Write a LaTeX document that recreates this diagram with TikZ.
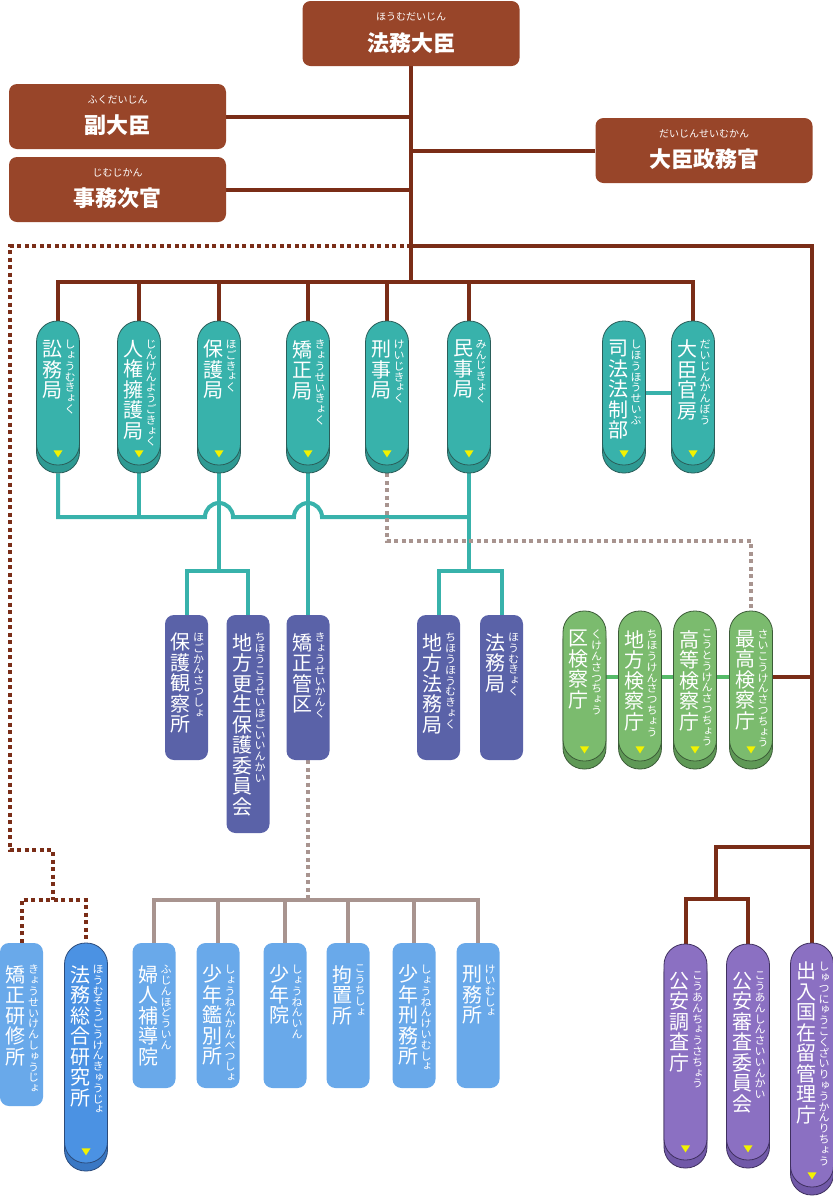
\documentclass[tikz,border=0pt]{standalone}
\usepackage{fontspec}
\setmainfont{Noto Sans CJK JP}
\newfontfamily\jpv{Noto Sans CJK JP}[RawFeature=+vert]
\usetikzlibrary{calc}
\pgfdeclarelayer{back}
\pgfdeclarelayer{bg}
\pgfsetlayers{back,bg,main}
\definecolor{cBrown}{HTML}{984529}
\definecolor{cBrownL}{HTML}{7A2D17}
\definecolor{cTeal}{HTML}{38B2AB}
\definecolor{cTealS}{HTML}{2E9A93}
\definecolor{cTealL}{HTML}{2A5E5A}
\definecolor{cNavy}{HTML}{5A62A8}
\definecolor{cGreen}{HTML}{7BBB6E}
\definecolor{cGreenS}{HTML}{5F9956}
\definecolor{cGreenL}{HTML}{3B5B37}
\definecolor{cGreenC}{HTML}{55BB68}
\definecolor{cGray}{HTML}{A8948F}
\definecolor{cSky}{HTML}{69A9EA}
\definecolor{cBlue}{HTML}{4B92E3}
\definecolor{cBlueS}{HTML}{3A78C4}
\definecolor{cBlueL}{HTML}{2B4B7B}
\definecolor{cPurp}{HTML}{8B70C2}
\definecolor{cPurpS}{HTML}{7159A8}
\definecolor{cPurpL}{HTML}{3F305F}
\definecolor{cYel}{HTML}{F2F200}
\makeatletter
\def\vst@loop#1{\ifx\relax#1\else\hbox to 1em{\hss#1\hss}\expandafter\vst@loop\fi}
\newcommand\vstack[3]{\vbox{#1\baselineskip=#2\lineskiplimit=-100pt\lineskip=0pt\relax\vst@loop#3\relax}}
\makeatother
\newcommand\mfontv{\jpv\fontsize{20}{20}\selectfont}
\newcommand\ffontv{\jpv\fontsize{11}{11}\selectfont}
\tikzset{
  pillbody/.style={draw=#1L, fill=#1, line width=0.8pt, rounded corners=21pt, minimum width=43pt, inner sep=0pt},
  pillshadow/.style={draw=#1L, fill=#1S, line width=0.8pt, rounded corners=21pt, minimum width=43pt, inner sep=0pt},
  rbox/.style={fill=#1, rounded corners=9pt, minimum width=43pt, inner sep=0pt},
  vt/.style={anchor=north, inner sep=0pt, text=white},
  titlebox/.style={fill=cBrown, rounded corners=8pt, minimum width=217pt, minimum height=65pt, inner sep=0pt},
  tfuri/.style={text=white, inner sep=0pt, font=\fontsize{10}{10}\selectfont},
  tmain/.style={text=white, inner sep=0pt, font=\bfseries\fontsize{22}{22}\selectfont},
  brownl/.style={draw=cBrownL, line width=4pt},
  browndot/.style={draw=cBrownL, line width=4pt, dash pattern=on 4pt off 3.5pt},
  teall/.style={draw=cTeal, line width=4pt},
  grayl/.style={draw=cGray, line width=4pt},
  graydot/.style={draw=cGray, line width=4pt, dash pattern=on 4pt off 3.5pt},
  greenl/.style={draw=cGreenC, line width=4pt}
}
% name, color, cx, top, bottom, main, furi, text offset
\newcommand\mkpill[8]{%
  \pgfmathsetmacro\pcy{(#4+#5)/2}%
  \pgfmathsetmacro\phh{#5-#4}%
  \node[pillshadow=#2, minimum height=\phh pt] (#1s) at (#3,\pcy+8) {};
  \node[pillbody=#2, minimum height=\phh pt] (#1) at (#3,\pcy) {};
  \node[vt] (#1t) at (#3-6,#4+#8) {\vstack{\mfontv}{20.5pt}{#6}};
  \node[vt] (#1f) at (#3+12,#4+#8) {\vstack{\ffontv}{10.8pt}{#7}};
  \fill[cYel] ($(#1.south)+(-4.5,-15)$) -- ++(9,0) -- ++(-4.5,7) -- cycle;
}
\newcommand\mkrect[8]{%
  \pgfmathsetmacro\pcy{(#4+#5)/2}%
  \pgfmathsetmacro\phh{#5-#4}%
  \node[rbox=#2, minimum height=\phh pt] (#1) at (#3,\pcy) {};
  \node[vt] (#1t) at (#3-6,#4+#8) {\vstack{\mfontv}{20.5pt}{#6}};
  \node[vt] (#1f) at (#3+12,#4+#8) {\vstack{\ffontv}{10.8pt}{#7}};
}
\begin{document}
\begin{tikzpicture}[x=1pt,y=-1pt]
\begin{pgfonlayer}{back}
\fill[white] (0,0) rectangle (833,1200);
\end{pgfonlayer}
\useasboundingbox (0,0) rectangle (833,1200);
% title boxes
\node[titlebox] (hm) at (411,33.5) {};
\node[tfuri] (hmf) at (411,17) {ほうむだいじん};
\node[tmain] (hmt) at (411,43) {法務大臣};
\node[titlebox] (fuku) at (117.5,116.5) {};
\node[tfuri] (fukuf) at (117.5,100) {ふくだいじん};
\node[tmain] (fukut) at (117.5,125) {副大臣};
\node[titlebox] (jimu) at (117.5,189.5) {};
\node[tfuri] (jimuf) at (117.5,173) {じむじかん};
\node[tmain] (jimut) at (117.5,198) {事務次官};
\node[titlebox] (seimu) at (704,150.5) {};
\node[tfuri] (seimuf) at (704,134) {だいじんせいむかん};
\node[tmain] (seimut) at (704,159) {大臣政務官};
% bureaus
\mkpill{b1}{cTeal}{58}{321}{465}{訟務局}{しょうむきょく}{19}
\mkpill{b2}{cTeal}{139}{321}{465}{人権擁護局}{じんけんようごきょく}{19}
\mkpill{b3}{cTeal}{219}{321}{465}{保護局}{ほごきょく}{19}
\mkpill{b4}{cTeal}{308}{321}{465}{矯正局}{きょうせいきょく}{19}
\mkpill{b5}{cTeal}{387}{321}{465}{刑事局}{けいじきょく}{19}
\mkpill{b6}{cTeal}{469}{321}{465}{民事局}{みんじきょく}{19}
\mkpill{b7}{cTeal}{624}{321}{465}{司法法制部}{しほうほうせいぶ}{19}
\mkpill{b8}{cTeal}{693}{321}{465}{大臣官房}{だいじんかんぼう}{19}
% middle row
\mkrect{m1}{cNavy}{186.5}{615}{760}{保護観察所}{ほごかんさつしょ}{18}
\mkrect{m2}{cNavy}{248}{615}{833}{地方更生保護委員会}{ちほうこうせいほごいいんかい}{18}
\mkrect{m3}{cNavy}{308}{615}{760}{矯正管区}{きょうせいかんく}{18}
\mkrect{m4}{cNavy}{438.5}{615}{760}{地方法務局}{ちほうほうむきょく}{18}
\mkrect{m5}{cNavy}{501.5}{615}{760}{法務局}{ほうむきょく}{18}
% prosecutors
\mkpill{g1}{cGreen}{584.5}{611}{761}{区検察庁}{くけんさつちょう}{19}
\mkpill{g2}{cGreen}{640}{611}{761}{地方検察庁}{ちほうけんさつちょう}{19}
\mkpill{g3}{cGreen}{695}{611}{761}{高等検察庁}{こうとうけんさつちょう}{19}
\mkpill{g4}{cGreen}{751}{611}{761}{最高検察庁}{さいこうけんさつちょう}{19}
% bottom row
\mkrect{k1}{cSky}{21.5}{943}{1106}{矯正研修所}{きょうせいけんしゅうじょ}{22}
\mkpill{k2}{cBlue}{86}{943}{1163}{法務総合研究所}{ほうむそうごうけんきゅうじょ}{22}
\mkrect{c1}{cSky}{154}{943}{1088}{婦人補導院}{ふじんほどういん}{22}
\mkrect{c2}{cSky}{218}{943}{1088}{少年鑑別所}{しょうねんかんべつしょ}{22}
\mkrect{c3}{cSky}{285}{943}{1088}{少年院}{しょうねんいん}{22}
\mkrect{c4}{cSky}{348}{943}{1088}{拘置所}{こうちしょ}{22}
\mkrect{c5}{cSky}{414}{943}{1088}{少年刑務所}{しょうねんけいむしょ}{22}
\mkrect{c6}{cSky}{478}{943}{1088}{刑務所}{けいむしょ}{22}
\mkpill{p1}{cPurp}{685.5}{944}{1160}{公安調査庁}{こうあんちょうさちょう}{28}
\mkpill{p2}{cPurp}{748}{944}{1160}{公安審査委員会}{こうあんしんさいいんかい}{28}
\mkpill{nyu}{cPurp}{812}{943}{1187}{出入国在留管理庁}{しゅつにゅうこくざいりゅうかんりちょう}{19}
% connectors
\begin{pgfonlayer}{bg}
\coordinate (jA) at (411,282);
\coordinate (jB) at (411,246);
\draw[brownl] (hm.south) -- (jA);
\draw[brownl] (fuku.east) -- (fuku.east -| jA);
\draw[brownl] (jimu.east) -- (jimu.east -| jA);
\draw[brownl] (seimu.west) -- (seimu.west -| jA);
\draw[brownl] (jB) -| (nyu.north);
\draw[brownl] (b1.north) |- (jA) -| (b8.north);
\foreach \nm in {b2,b3,b4,b5,b6} \draw[brownl] (\nm.north) -- (\nm.north |- jA);
\coordinate (gy) at (0,677);
\draw[brownl] (g4.east |- gy) -- (nyu.north |- gy);
\coordinate (jR) at (812,847);
\coordinate (jK) at (716,899);
\draw[brownl] (jR) -| (jK);
\draw[brownl] (p1.north) |- (jK) -| (p2.north);
% dotted brown
\coordinate (d1) at (10,246);
\coordinate (d2) at (10,850);
\coordinate (d3) at (53,850);
\coordinate (jL) at (53,900);
\draw[browndot] (jB) -- (d1) -- (d2) -- (d3) -- (jL);
\draw[browndot] (k1.north) |- (jL) -| (k2.north);
% teal
\coordinate (tH) at (469,517);
\draw[teall] (b1s.south) |- (205,517) .. controls (205,509.3) and (211.3,503) .. (219,503) .. controls (226.7,503) and (233,509.3) .. (233,517) -- (294,517) .. controls (294,509.3) and (300.3,503) .. (308,503) .. controls (315.7,503) and (322,509.3) .. (322,517) -- (tH);
\draw[teall] (b2s.south) -- (b2s.south |- tH);
\coordinate (tL) at (219,571);
\coordinate (tR) at (469,571);
\draw[teall] (b3s.south) -- (tL);
\draw[teall] (m1.north) |- (tL) -| (m2.north);
\draw[teall] (b4s.south) -- (m3.north);
\draw[teall] (b6s.south) -- (tR);
\draw[teall] (m4.north) |- (tR) -| (m5.north);
\draw[teall] (b7.east) -- (b8.west);
% green
\draw[greenl] (g1.east |- gy) -- (g2.west |- gy);
\draw[greenl] (g2.east |- gy) -- (g3.west |- gy);
\draw[greenl] (g3.east |- gy) -- (g4.west |- gy);
% gray
\coordinate (gC) at (751,541);
\draw[graydot] (b5s.south) |- (gC) -- (g4.north);
\coordinate (gJ) at (308,900);
\draw[graydot] (m3.south) -- ([yshift=2pt]gJ);
\draw[grayl] (c1.north) |- (gJ) -| (c6.north);
\foreach \nm in {c2,c3,c4,c5} \draw[grayl] (\nm.north) -- (\nm.north |- gJ);
\end{pgfonlayer}
\end{tikzpicture}
\end{document}
